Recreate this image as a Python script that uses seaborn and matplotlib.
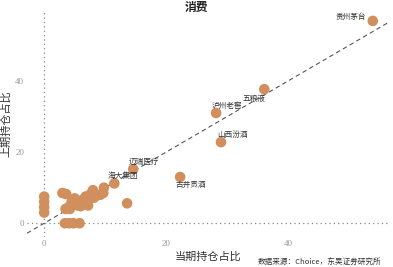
import matplotlib
matplotlib.use("Agg")
import matplotlib.pyplot as plt
import seaborn as sns
import pandas as pd
import numpy as np

# current-period holding share (x) and previous-period share (y)
names = ["贵州茅台", "五粮液", "泸州老窖", "山西汾酒", "古井贡酒", "迈瑞医疗", "海大集团"]
named_x = [53.9, 36.1, 28.2, 29.0, 22.3, 14.6, 11.5]
named_y = [56.9, 37.7, 31.0, 22.8, 13.0, 15.2, 11.2]
# label offsets in points (dx, dy) and alignment
label_dx = [-5, 1, -3, -3, -3, -3, -5]
label_dy = [3, -7, 5, 5, -6, 5, 5]
label_ha = ["right", "right", "left", "left", "left", "left", "left"]

other_x = [0, 0, 0, 0, 3.4, 4.1, 4.8, 5.8,
           3.0, 3.6, 13.6,
           3.5, 4.0, 4.5, 5.0, 5.3, 5.0, 5.8, 6.2, 6.5, 6.0, 7.0, 7.2, 7.5, 7.8,
           8.0, 7.0, 4.5, 5.5, 6.8, 4.2, 8.2, 9.2, 9.7, 9.8, 6.3, 7.6]
other_y = [3.0, 4.5, 6.0, 7.5, 0, 0, 0, 0,
           8.5, 8.2, 5.6,
           4.0, 4.5, 5.0, 5.5, 6.5, 7.0, 6.0, 5.5, 6.8, 4.8, 7.0, 5.0, 8.0, 8.5,
           9.3, 6.0, 6.0, 5.0, 7.5, 4.0, 7.2, 8.0, 8.5, 10.0, 6.2, 7.0]

df = pd.DataFrame({"x": named_x + other_x, "y": named_y + other_y})

sns.set_style("white")
plt.rcParams['font.family'] = ['Noto Sans CJK SC', 'DejaVu Sans']

fig = plt.figure(figsize=(3.93, 2.67), dpi=100)
ax = fig.add_axes([0.069, 0.112, 0.923, 0.847])

xlim = (-2.8, 56.7)
ylim = (-3.9, 59.7)
ax.plot([xlim[0], xlim[1]], [xlim[0], xlim[1]], ls=(0, (4, 3)), color="#555555", lw=0.8, zorder=1)
ax.axhline(0, ls=(0, (1, 2.5)), color="#888888", lw=0.9, zorder=0)
ax.axvline(0, ls=(0, (1, 2.5)), color="#888888", lw=0.9, zorder=0)

sns.scatterplot(data=df, x="x", y="y", ax=ax, s=58, color="#D08F5C", edgecolor="none", zorder=3)

for n, x, y, dx, dy, ha in zip(names, named_x, named_y, label_dx, label_dy, label_ha):
    ax.annotate(n, (x, y), xytext=(dx, dy), textcoords="offset points",
                ha=ha, va="center", fontsize=5.5, color="#333333", zorder=4)

ax.set_xlim(*xlim)
ax.set_ylim(*ylim)
ax.set_xticks([0, 20, 40])
ax.set_yticks([0, 20, 40])
ax.tick_params(axis="both", length=0, labelsize=6.5, labelcolor="#999999", pad=2)
for lab in ax.get_xticklabels() + ax.get_yticklabels():
    lab.set_fontfamily("Liberation Serif")
for sp in ax.spines.values():
    sp.set_visible(False)

ax.set_xlabel("当期持仓占比", fontsize=8, color="#333333", labelpad=3)
ax.set_ylabel("上期持仓占比", fontsize=8, color="#333333", labelpad=3)
fig.text(0.5, 0.995, "消费", ha="center", va="top", fontsize=8.5, color="#222222", fontweight="bold")
fig.text(0.655, 0.033, "数据来源：Choice，东吴证券研究所", ha="left", va="top", fontsize=5.5, color="#333333")

fig.savefig("out.png", dpi=100)
